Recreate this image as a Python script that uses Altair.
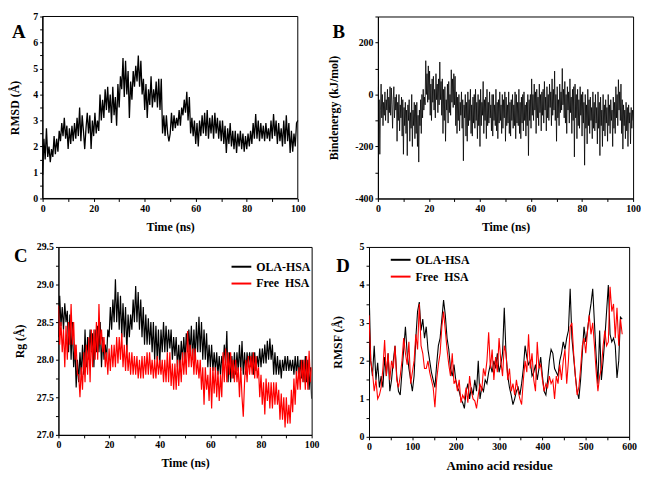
import altair as alt
import pandas as pd

FONT = "Liberation Serif"

# ---------------- Panel A: RMSD vs time (0.5 ns sampling) ----------------
rmsd_a = [
    0.9, 2.3, 1.5, 2.7, 1.6, 2.0, 1.4, 1.9, 1.6, 2.4,
    1.7, 2.3, 1.8, 2.6, 2.2, 2.9, 2.4, 3.1, 2.3, 2.8,
    1.9, 2.7, 2.1, 2.8, 2.2, 2.9, 2.3, 3.1, 2.4, 3.5,
    2.2, 3.2, 2.6, 1.9, 2.7, 3.3, 2.5, 3.2, 1.9, 3.0,
    2.4, 3.3, 2.5, 3.0, 2.6, 4.0, 3.0, 3.8, 3.1, 4.2,
    3.4, 4.3, 3.3, 4.0, 2.9, 4.3, 3.2, 3.9, 2.8, 4.4,
    3.5, 4.7, 4.2, 5.4, 3.9, 5.3, 4.0, 4.9, 3.1, 4.5,
    3.8, 4.9, 4.3, 5.1, 4.5, 5.5, 4.3, 5.3, 4.0, 4.6,
    3.4, 4.4, 3.1, 4.2, 3.6, 4.7, 3.5, 4.2, 3.7, 4.5,
    3.5, 4.6, 3.4, 4.6, 2.5, 3.2, 2.4, 3.2, 2.5, 2.2,
    2.5, 3.3, 2.6, 3.2, 2.7, 3.1, 2.8, 3.4, 2.8, 3.5,
    3.2, 3.8, 3.3, 4.1, 3.0, 3.9, 2.5, 3.1, 2.4, 3.0,
    2.1, 2.9, 2.0, 3.0, 2.4, 3.2, 2.5, 3.3, 2.4, 3.4,
    2.3, 3.1, 2.5, 3.2, 2.3, 3.3, 2.5, 3.1, 2.3, 3.0,
    2.2, 3.0, 2.1, 2.8, 1.75, 2.7, 2.1, 2.9, 2.0, 2.6,
    1.9, 2.6, 1.75, 2.5, 2.0, 2.6, 1.9, 2.5, 1.8, 2.4,
    1.9, 2.5, 2.0, 2.6, 2.1, 2.9, 2.3, 3.25, 2.3, 3.0,
    2.2, 2.9, 2.3, 2.8, 2.2, 2.9, 2.3, 2.7, 2.2, 3.0,
    2.3, 3.25, 2.4, 3.0, 2.1, 2.9, 2.2, 2.7, 2.0, 3.0,
    2.1, 3.2, 2.2, 2.9, 1.75, 2.6, 1.8, 2.5, 2.0, 2.9,
    3.0,
]

# ---------------- Panel B: binding energy vs time (0.25 ns sampling) ----------------
bind_b = [
    30, -120, -20, -230, -60, 40, -90, 0, -120, -30, -80, 10, -100, -20, -60, 20, -110, -10, -70, 30,
    -80, 25, -40, -130, -20, 30, -90, -10, -60, 0, -180, -30, -100, 0, -140, -40, -90, -10, -160, -20,
    -230, -50, -120, -30, -150, -60, -235, -40, -100, -20, -180, -70, -130, 0, -200, -60, -120, -30, -170, -40,
    -150, -30, -200, -80, -260, -60, -120, -20, -150, 0, -90, 20, -60, -10, -40, 130, 0, 80, -30, 110,
    -20, 90, -80, 40, -100, 60, -30, 70, -60, 20, -90, 80, -20, 40, -70, 60, -40, 125, -20, 50,
    -80, 60, -150, 20, -100, 30, -180, -20, -60, 40, -110, 50, -70, 0, -80, 95, -30, 60, -50, 80,
    -40, 70, -120, 10, -150, -10, -100, 0, -140, -30, -80, 10, -130, -20, -255, -40, -90, 0, -160, -30,
    -180, 10, -120, -20, -100, 20, -150, -40, -160, -10, -110, 0, -130, 20, -100, -30, -170, 0, -120, -20,
    -200, 20, -120, -30, -80, 50, -150, -20, -100, -10, -170, 20, -120, -30, -110, 10, -90, -40, -140, 0,
    -160, 0, -100, -40, -120, 20, -140, -30, -170, -20, -110, 10, -100, -40, -150, 0, -130, -20, -90, 10,
    -180, -10, -120, -40, -110, 10, -150, -30, -160, -20, -100, 0, -130, -40, -120, 10, -170, 0, -110, -30,
    -120, 20, -150, -30, -170, -10, -110, 0, -140, 10, -100, -40, -160, -30, -120, 0, -235, -20, -100, 0,
    -130, 60, -80, 0, -100, 40, -60, 10, -150, 20, -90, -10, -120, 40, -70, 0, -140, 10, -80, 20,
    -110, 50, -60, -10, -140, 30, -90, 0, -100, 40, -50, 10, -120, 60, -80, 20, -60, 90, -100, 0,
    -180, 30, -90, -20, -120, 40, -70, 10, -60, 100, -40, 20, -90, 50, -110, 0, -150, 30, -60, 10,
    -110, 60, -70, -10, -150, 20, -100, 30, -240, 40, -90, 0, -170, 20, -120, -20, -130, 30, -80, 0,
    -160, 10, -110, -30, -272, 0, -130, -40, -190, 20, -120, -20, -150, -10, -100, -50, -170, 10, -130, -30,
    -140, 0, -110, -50, -190, 10, -130, -30, -235, -10, -120, -60, -200, 0, -140, -40, -160, -20, -110, -50,
    -180, 0, -120, -40, -150, -20, -100, -60, -200, -10, -130, -30, -150, 30, -90, 0, -120, 57, -60, 10,
    -100, 40, -150, -20, -210, -40, -120, -60, -170, -30, -140, -50, -200, -40, -110, -70, -190, -50, -130, -60,
    -100,
]

# ---------------- Panel C: radius of gyration (0.5 ns sampling) ----------------
rg_ola = [
    28.3, 28.85, 28.45, 28.7, 28.4, 28.75, 28.5, 28.65, 28.1, 28.6,
    28.0, 28.5, 27.9, 28.2, 27.63, 28.0, 27.7, 28.1, 27.8, 28.2,
    27.8, 28.4, 27.9, 28.3, 28.0, 28.4, 28.1, 28.35, 27.9, 28.4,
    28.1, 28.45, 28.1, 28.5, 27.9, 28.3, 28.0, 28.2, 28.0, 28.4,
    28.3, 28.7, 28.4, 28.8, 28.5, 29.07, 28.5, 28.9, 28.4, 28.85,
    28.3, 28.75, 28.3, 28.7, 28.1, 28.6, 28.3, 28.6, 28.4, 28.8,
    28.5, 28.98, 28.5, 28.9, 28.4, 28.8, 28.3, 28.7, 28.2, 28.6,
    28.2, 28.55, 28.2, 28.5, 28.1, 28.5, 28.0, 28.45, 28.0, 28.4,
    27.9, 28.4, 28.1, 28.5, 28.1, 28.45, 28.1, 28.4, 28.15, 28.4,
    28.0, 28.3, 28.05, 28.3, 27.9, 28.2, 27.9, 28.25, 28.0, 28.3,
    28.0, 28.35, 28.1, 28.4, 28.1, 28.45, 28.0, 28.4, 28.0, 28.5,
    28.1, 28.57, 28.1, 28.5, 28.0, 28.4, 28.0, 28.35, 27.9, 28.2,
    27.9, 28.2, 27.85, 28.1, 27.85, 28.1, 27.8, 28.05, 27.8, 28.05,
    27.9, 28.2, 27.95, 28.38, 27.7, 28.1, 27.7, 28.05, 27.75, 28.1,
    27.8, 28.1, 27.85, 28.2, 27.85, 28.25, 27.8, 28.1, 27.8, 28.1,
    27.9, 28.1, 27.9, 28.1, 27.8, 28.1, 27.85, 28.05, 27.9, 28.15,
    27.9, 28.15, 27.95, 28.2, 27.95, 28.25, 28.0, 28.28, 28.0, 28.2,
    27.8, 28.1, 27.8, 28.05, 27.8, 28.0, 27.75, 28.0, 27.85, 28.05,
    27.85, 28.05, 27.85, 28.0, 27.85, 28.0, 27.8, 28.05, 27.8, 28.05,
    27.75, 28.0, 27.75, 28.0, 27.7, 28.05, 27.7, 28.0, 27.6, 27.9,
    27.48,
]
rg_free = [
    28.72, 28.2, 28.5, 28.1, 28.4, 27.9, 28.45, 28.0, 28.5, 28.2,
    28.74, 28.2, 28.5, 28.0, 28.2, 27.8, 27.8, 27.5, 27.9, 27.6,
    28.1, 27.7, 28.2, 27.8, 28.3, 27.7, 28.4, 27.9, 28.4, 28.0,
    28.5, 28.0, 28.74, 28.2, 28.4, 28.1, 28.3, 27.9, 28.1, 27.8,
    28.15, 27.85, 28.2, 27.9, 28.2, 27.9, 28.3, 27.95, 28.3, 28.0,
    28.35, 27.9, 28.2, 27.85, 28.2, 27.85, 28.1, 27.8, 28.1, 27.8,
    28.05, 27.8, 28.05, 27.75, 28.0, 27.75, 28.05, 27.75, 28.05, 27.8,
    28.1, 27.8, 28.1, 27.8, 28.0, 27.75, 28.0, 27.75, 28.05, 27.8,
    28.0, 27.8, 28.0, 27.7, 28.0, 27.7, 28.1, 27.7, 28.1, 27.65,
    27.95, 27.6, 27.95, 27.6, 28.0, 27.65, 28.0, 27.7, 28.1, 27.8,
    28.1, 27.8, 28.38, 27.9, 28.2, 27.9, 28.15, 27.8, 28.15, 27.8,
    28.0, 27.75, 28.0, 27.6, 27.9, 27.4, 27.9, 27.6, 27.8, 27.45,
    27.9, 27.35, 27.9, 27.55, 27.9, 27.5, 27.85, 27.45, 27.8, 27.5,
    28.1, 27.7, 28.15, 27.7, 28.1, 27.8, 28.1, 27.75, 28.0, 27.7,
    28.0, 27.7, 27.9, 27.5, 27.9, 27.5, 27.24, 27.7, 28.0, 27.7,
    28.05, 27.8, 28.05, 27.8, 28.1, 27.75, 28.05, 27.75, 27.9, 27.5,
    27.8, 27.4, 27.7, 27.27, 27.75, 27.45, 27.7, 27.35, 27.7, 27.35,
    27.7, 27.4, 27.7, 27.4, 27.6, 27.2, 27.55, 27.2, 27.5, 27.1,
    27.5, 27.15, 27.4, 27.15, 27.6, 27.3, 27.75, 27.4, 27.85, 27.6,
    27.9, 27.6, 28.0, 27.7, 28.0, 27.6, 28.05, 27.6, 28.12, 27.7,
    27.9,
]

# ---------------- Panel D: RMSF per residue (every 4th residue) ----------------
rmsf_ola = [
    3.95, 2.0, 1.6, 2.4, 1.5, 1.95, 1.3, 1.6, 1.3, 2.1,
    1.6, 2.2, 1.2, 1.5, 2.0, 2.4, 1.6, 1.2, 1.1, 1.7,
    2.3, 2.9, 2.2, 1.8, 1.5, 1.2, 1.6, 2.6, 3.3, 3.55,
    2.8, 3.1, 2.6, 2.9, 2.3, 2.0, 1.7, 1.5, 1.3, 1.9,
    2.4, 2.6, 3.1, 3.6, 3.2, 2.6, 2.3, 1.8, 1.6, 1.9,
    1.5, 1.3, 1.2, 1.0, 0.9, 0.75, 1.2, 1.4, 1.0, 1.3,
    1.1, 1.5, 1.2, 2.0, 1.0, 1.3, 1.2, 1.5, 1.4, 1.7,
    1.9, 1.7, 2.0, 1.8, 2.2, 1.7, 1.9, 2.2, 3.4, 2.2,
    1.6, 1.3, 1.1, 0.85, 1.0, 1.2, 1.3, 1.1, 1.4, 1.8,
    2.4, 2.1, 1.9, 2.0, 1.6, 1.7, 1.9, 1.5, 1.8, 2.1,
    1.6, 1.2, 1.1, 1.5, 2.0, 2.3, 2.2, 1.8, 1.7, 1.6,
    2.0, 2.2, 2.5, 2.3, 2.6, 2.8, 3.9, 2.6, 2.1, 1.6,
    1.2, 1.0, 1.5, 2.2, 2.9, 2.5, 2.8, 3.2, 3.5, 3.9,
    3.0, 2.1, 1.4, 2.8, 1.5, 2.0, 2.6, 3.3, 4.0, 2.7,
    2.5, 2.6, 2.4, 1.55, 2.0, 3.15, 3.1,
]
rmsf_free = [
    3.2, 2.0, 1.7, 1.2, 1.5, 1.0, 1.1, 1.3, 1.8, 2.55,
    1.6, 2.2, 1.5, 2.0, 1.8, 2.4, 1.5, 1.3, 1.6, 2.0,
    2.6, 2.2, 1.9, 2.5, 1.4, 1.7, 2.0, 2.7, 2.3, 3.5,
    2.4, 2.2, 1.8, 1.8, 2.0, 1.7, 1.5, 1.3, 0.78, 1.5,
    1.9, 2.2, 2.9, 3.3, 2.8, 2.3, 1.9, 1.6, 2.2, 1.4,
    1.5, 1.2, 1.5, 0.9, 1.1, 1.0, 1.3, 0.9, 1.6, 1.2,
    1.0, 0.95, 0.75, 1.1, 1.4, 1.2, 1.8, 1.6, 2.0, 2.75,
    1.8, 2.3, 1.5, 2.1, 1.7, 2.6, 2.0, 1.6, 2.4, 2.2,
    1.5, 1.8, 1.2, 1.4, 1.1, 1.5, 1.2, 1.0, 0.85, 1.5,
    2.0, 1.7, 2.7, 1.8, 2.2, 1.5, 1.2, 2.5, 1.8, 1.9,
    1.5, 1.2, 1.4, 1.3, 1.6, 1.4, 1.5, 1.0, 1.6, 1.4,
    1.9, 1.5, 2.0, 2.3, 1.4, 2.0, 2.9, 3.0, 2.2, 1.6,
    1.1, 1.3, 1.8, 2.4, 2.6, 2.2, 2.8, 3.2, 2.7, 3.0,
    2.4, 1.7, 1.2, 1.6, 1.8, 2.4, 2.8, 2.4, 2.5, 3.95,
    3.3, 3.5, 2.6, 3.4, 2.4, 3.1, 2.7,
]

series_names = ["OLA-HSA", "Free\u00a0 HSA"]
series_colors = ["black", "red"]

time_a = [0.5 * i for i in range(len(rmsd_a))]
time_b = [0.25 * i for i in range(len(bind_b))]
time_c = [0.5 * i for i in range(len(rg_ola))]
res_d = [4 * i for i in range(len(rmsf_ola))]

dfA = pd.DataFrame({"time": time_a, "rmsd": rmsd_a})
dfB = pd.DataFrame({"time": time_b, "energy": bind_b})
dfC1 = pd.DataFrame({"time": time_c, "rg": rg_ola, "series": series_names[0]})
dfC2 = pd.DataFrame({"time": time_c, "rg": rg_free, "series": series_names[1]})
dfD1 = pd.DataFrame({"res": res_d, "rmsf": rmsf_ola, "series": series_names[0]})
dfD2 = pd.DataFrame({"res": res_d, "rmsf": rmsf_free, "series": series_names[1]})


def axis(values, label_expr, title, title_pad=15, title_size=12, offset=0):
    return alt.Axis(
        values=values, labelExpr=label_expr, title=title,
        grid=False, labelFlush=False, labelOverlap=False,
        domainColor="black", domainWidth=1, tickColor="black", tickSize=3,
        labelFont=FONT, labelFontWeight="bold", labelFontSize=10, labelColor="black",
        labelPadding=2, offset=offset,
        titleFont=FONT, titleFontWeight="bold", titleFontSize=title_size,
        titleColor="black", titlePadding=title_pad,
    )


def steps(lo, hi, step):
    n = int(round((hi - lo) / step))
    return [round(lo + i * step, 4) for i in range(n + 1)]


time_vals = steps(0, 100, 10)
time_expr = "datum.value % 20 === 0 ? '' + datum.value : ''"


def letter(ch, lx, ly):
    return alt.Chart(pd.DataFrame({"t": [ch]})).mark_text(
        font=FONT, fontWeight="bold", fontSize=19, align="left",
        baseline="alphabetic", color="black"
    ).encode(text="t:N", x=alt.value(lx), y=alt.value(ly))


def legend(lx, ly):
    return alt.Legend(
        orient="none", legendX=lx, legendY=ly, title=None,
        symbolType="stroke", symbolSize=400, symbolStrokeWidth=2,
        labelFont=FONT, labelFontWeight="bold", labelFontSize=12,
        labelColor="black", labelOffset=4, rowPadding=-3, padding=0,
    )


# Panel A: its plot area starts left of the shared column origin (as in the figure)
SHIFT_A = 16
WA, HA = 242, 184
xA_scale = alt.Scale(domain=[0, 100], nice=False, zero=False, range=[-SHIFT_A, WA])
yA_scale = alt.Scale(domain=[0, 7], nice=False, zero=False)
lineA = alt.Chart(dfA).mark_line(color="black", strokeWidth=1.3, clip=False).encode(
    x=alt.X("time:Q", scale=xA_scale,
            axis=axis(time_vals, time_expr, "Time (ns)", title_pad=8)),
    y=alt.Y("rmsd:Q", scale=yA_scale,
            axis=axis(steps(0, 7, 0.5), "datum.value % 1 === 0 ? '' + datum.value : ''",
                      "RMSD (Å)", title_pad=11, offset=SHIFT_A)),
)
# plot frame of panel A (pixel box of its shifted plot area)
frameA = alt.Chart(pd.DataFrame({"frame": ["A"]})).mark_rect(
    fillOpacity=0, stroke="black", strokeWidth=1
).encode(x=alt.value(-SHIFT_A), x2=alt.value(WA), y=alt.value(0), y2=alt.value(HA))
panelA = alt.layer(lineA, frameA, letter("A", -31 - SHIFT_A, 22)).properties(
    width=WA, height=HA, view=alt.ViewBackground(stroke="transparent")
)

# Panel B
lineB = alt.Chart(dfB).mark_line(color="black", strokeWidth=0.8, clip=True).encode(
    x=alt.X("time:Q", scale=alt.Scale(domain=[0, 100], nice=False, zero=False),
            axis=axis(time_vals, time_expr, "Time (ns)", title_pad=8)),
    y=alt.Y("energy:Q", scale=alt.Scale(domain=[-400, 300], nice=False, zero=False),
            axis=axis(steps(-400, 300, 100), "datum.value % 200 === 0 ? '' + datum.value : ''",
                      "Bindenergy  (kJ/mol)")),
)
panelB = alt.layer(lineB, letter("B", -46, 22)).properties(width=258, height=184)

# Panel C
colC = alt.Color("series:N", scale=alt.Scale(domain=series_names, range=series_colors),
                 legend=legend(174, 9))
xC = alt.X("time:Q", scale=alt.Scale(domain=[0, 100], nice=False, zero=False),
           axis=axis(time_vals, time_expr, "Time (ns)", title_pad=8))
yC = alt.Y("rg:Q", scale=alt.Scale(domain=[27, 29.5], nice=False, zero=False),
           axis=axis(steps(27, 29.5, 0.25),
                     "round(datum.value * 100) % 50 === 0 ? format(datum.value, '.1f') : ''",
                     "Rg (Å)", title_pad=10))
lineC1 = alt.Chart(dfC1).mark_line(strokeWidth=1.2, clip=True).encode(x=xC, y=yC, color=colC)
lineC2 = alt.Chart(dfC2).mark_line(strokeWidth=1.2, clip=True).encode(x=xC, y=yC, color=colC)
panelC = alt.layer(lineC1, lineC2, letter("C", -45, 15)).properties(width=256, height=190)

# Panel D
colD = alt.Color("series:N", scale=alt.Scale(domain=series_names, range=series_colors),
                 legend=legend(21, 2))
xD = alt.X("res:Q", scale=alt.Scale(domain=[0, 600], nice=False, zero=False),
           axis=axis(steps(0, 600, 50), "datum.value % 100 === 0 ? '' + datum.value : ''",
                     "Amino acid residue", title_pad=8, title_size=13))
yD = alt.Y("rmsf:Q", scale=alt.Scale(domain=[0, 5], nice=False, zero=False),
           axis=axis(steps(0, 5, 0.5), "datum.value % 1 === 0 ? '' + datum.value : ''",
                     "RMSF (Å)"))
lineD1 = alt.Chart(dfD1).mark_line(strokeWidth=1.1, clip=True).encode(x=xD, y=yD, color=colD)
lineD2 = alt.Chart(dfD2).mark_line(strokeWidth=1.1, clip=True).encode(x=xD, y=yD, color=colD)
panelD = alt.layer(lineD1, lineD2, letter("D", -33, 25)).properties(width=263, height=192)

row1 = alt.concat(panelA, panelB, columns=2, align="each", spacing=12)
row2 = alt.concat(panelC, panelD, columns=2, align="each", spacing=11).resolve_scale(
    color="independent").resolve_legend(color="independent")

chart = alt.vconcat(row1, row2, spacing=8).properties(
    padding=0, autosize=alt.AutoSizeParams(type="pad")
).configure_view(stroke="black", strokeWidth=1)

chart.save("out.html", embed_options={"renderer": "svg", "actions": False})
